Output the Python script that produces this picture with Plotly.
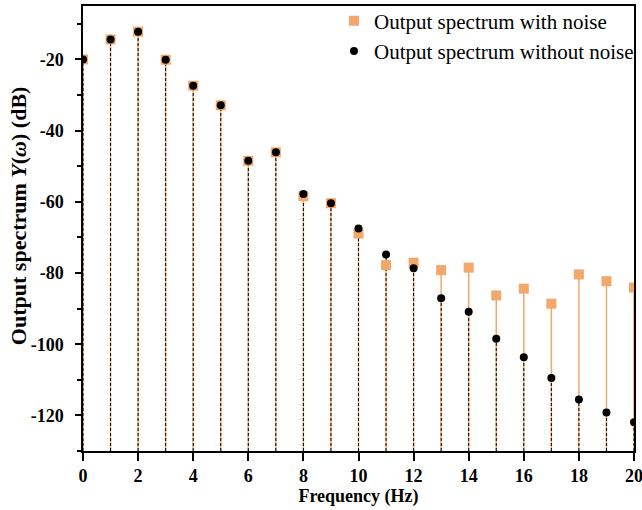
import plotly.graph_objects as go

freq = list(range(21))
with_noise = [-20.0, -14.4, -12.2, -20.1, -27.4, -32.9, -48.5, -46.1, -58.4, -60.4,
              -68.9, -77.8, -77.1, -79.2, -78.5, -86.3, -84.4, -88.6, -80.4, -82.3, -84.1]
without_noise = [-20.0, -14.4, -12.2, -20.1, -27.4, -32.9, -48.5, -46.1, -57.8, -60.4,
                 -67.5, -74.8, -78.7, -87.1, -90.9, -98.5, -103.7, -109.5, -115.5, -119.2, -121.9]
y_min, y_max = -130, -5
x_ticks = list(range(0, 21, 2))
y_ticks = [-120, -100, -80, -60, -40, -20]

ORANGE = "#F4A76B"
FONT = "Liberation Serif"


def stems(xs, ys, base):
    sx, sy = [], []
    for x, y in zip(xs, ys):
        sx += [x, x, None]
        sy += [base, y, None]
    return sx, sy


fig = go.Figure()
sx, sy = stems(freq, with_noise, y_min)
fig.add_trace(go.Scatter(x=sx, y=sy, mode="lines", line=dict(color=ORANGE, width=1.5),
                         showlegend=False, hoverinfo="skip"))
sx, sy = stems(freq, without_noise, y_min)
fig.add_trace(go.Scatter(x=sx, y=sy, mode="lines", line=dict(color="black", width=1, dash="3px,2px"),
                         showlegend=False, hoverinfo="skip"))
fig.add_trace(go.Scatter(x=freq, y=with_noise, mode="markers", name="Output spectrum with noise",
                         marker=dict(symbol="square", size=10, color=ORANGE)))
fig.add_trace(go.Scatter(x=freq, y=without_noise, mode="markers", name="Output spectrum without noise",
                         marker=dict(symbol="circle", size=8, color="black")))

fig.update_layout(
    width=642, height=510,
    margin=dict(l=83, r=8, t=6, b=59, autoexpand=False),
    plot_bgcolor="white", paper_bgcolor="white",
    font=dict(family=FONT, color="black"),
    legend=dict(x=0.4555, y=1.012, xanchor="left", yanchor="top", bgcolor="rgba(0,0,0,0)",
                font=dict(family=FONT, size=21), tracegroupgap=0, itemwidth=30),
    annotations=[dict(text="<b>Output spectrum <i>Y</i>(<i>ω</i>) (dB)</b>", textangle=-90,
                      xref="paper", yref="paper", x=-0.118, y=0.53, xanchor="center", yanchor="middle",
                      showarrow=False, font=dict(family=FONT, size=22))],
)
fig.update_xaxes(
    range=[0, 20], tickvals=x_ticks, ticktext=[f"<b>{v}</b>" for v in x_ticks],
    showgrid=False, zeroline=False, automargin=False, ticklabeloverflow="allow",
    showline=True, mirror=True, linecolor="black", linewidth=1.5,
    ticks="outside", ticklen=8, tickwidth=1.5, tickcolor="black",
    tickfont=dict(family=FONT, size=18),
    title=dict(text="<b>Frequency (Hz)</b>", font=dict(family=FONT, size=18), standoff=2),
)
fig.update_yaxes(
    range=[y_min, y_max], tickvals=y_ticks, ticktext=[f"<b>{v}</b>" for v in y_ticks],
    showgrid=False, zeroline=False, automargin=False,
    showline=True, mirror=True, linecolor="black", linewidth=1.5,
    ticks="outside", ticklen=6, tickwidth=1.5, tickcolor="black",
    ticklabelstandoff=8,
    minor=dict(dtick=10, ticks="outside", ticklen=4, tickwidth=1.5, tickcolor="black", showgrid=False),
    tickfont=dict(family=FONT, size=18),
)
fig.write_html("out.html", config={"displayModeBar": False},
               post_script="document.body.style.margin='0';document.body.style.overflow='hidden';")
